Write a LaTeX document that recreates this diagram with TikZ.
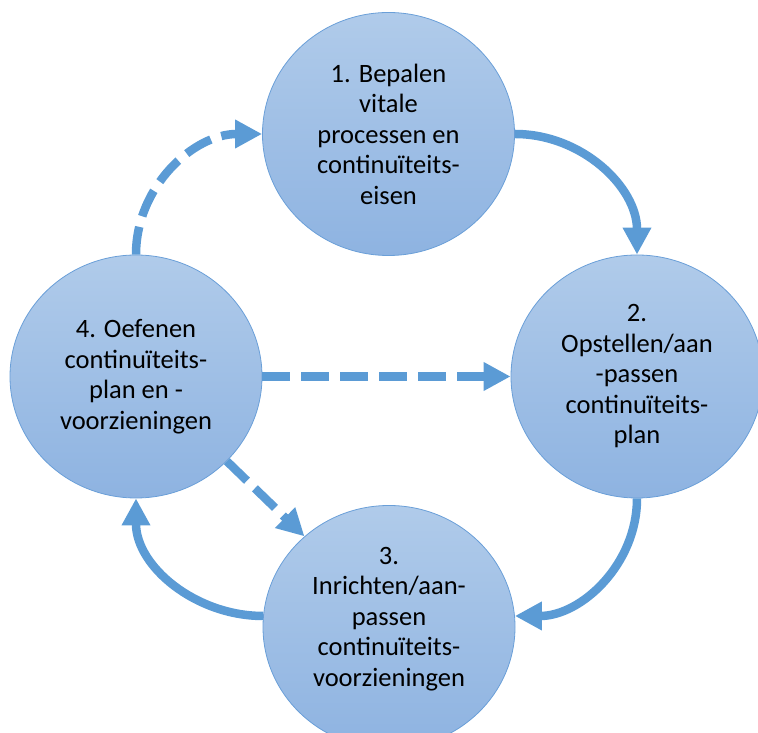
\documentclass[tikz,border=0pt]{standalone}
\usepackage{fontspec}
\setmainfont{Carlito}
\usepackage{xcolor}
\usepackage{tikz}
\usetikzlibrary{shapes,arrows.meta}

\definecolor{fasetop}{HTML}{B0CBEA}
\definecolor{fasebodem}{HTML}{8EB3E1}
\definecolor{faserand}{HTML}{6A9FD8}
\definecolor{pijlblauw}{HTML}{5B9BD5}

\begin{document}
\begin{tikzpicture}[x=1pt,y=1pt,
    fase/.style={ellipse,minimum width=252pt,minimum height=243pt,inner sep=0pt,
        draw=faserand,line width=0.8pt,top color=fasetop,bottom color=fasebodem,
        align=center,font=\fontsize{26.5}{30.5}\selectfont},
    pijl/.style={draw=pijlblauw,line width=8.5pt,-{Triangle[length=27pt,width=27pt]}},
    stippel/.style={pijl,dash pattern=on 28pt off 11pt}]
            \useasboundingbox (0,0) rectangle (758,733);

            \node[fase] (f1) at (388.5,599) {1. Bepalen\\vitale\\processen en\\continuïteits-\\eisen};
            \node[fase] (f2) at (637,356.5) {2.\\Opstellen/aan\\-passen\\continuïteits-\\plan};
            \node[fase,text depth=21pt] (f3) at (389,106) {3.\\Inrichten/aan-\\passen\\continuïteits-\\voorzieningen};
            \node[fase] (f4) at (136,356.5) {4. Oefenen\\continuïteits-\\plan en -\\voorzieningen};

            \draw[pijl] (f1.east) to[out=0,in=90] (f2.north);
            \draw[pijl] (f2.south) to[out=-90,in=0] (f3.5);
            \draw[pijl] (f3.175) to[out=180,in=-90] (f4.south);
            \draw[stippel] (f4.north) to[out=90,in=180] (f1.west);
            \draw[stippel] (f4.east) -- (f2.west);
            \draw[stippel] (f4.-43) -- (f3.133);
          \end{tikzpicture}
\end{document}
